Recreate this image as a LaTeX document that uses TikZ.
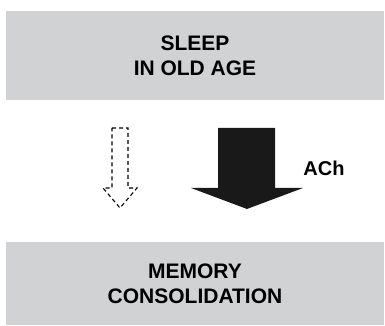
\documentclass[tikz,border=0pt]{standalone}
\usepackage{fontspec}
\setmainfont{Liberation Sans}
\definecolor{boxgray}{HTML}{D1D2D4}
\begin{document}
\begin{tikzpicture}[x=1pt,y=1pt,
  graybox/.style={fill=boxgray, draw=none, minimum width=378pt, inner sep=0pt,
    align=center, font=\fontsize{21}{25}\selectfont\bfseries},
  label text/.style={font=\fontsize{20}{25}\selectfont\bfseries, inner sep=0pt}]
\useasboundingbox (0,0) rectangle (385,326);
\node[graybox, minimum height=89pt] (sleep) at (195,270.5) {SLEEP\\IN OLD AGE};
\node[graybox, minimum height=83pt] (memory) at (195,42.5) {MEMORY\\CONSOLIDATION};
% dashed arrow
\draw[line width=1.1pt, dash pattern=on 4pt off 3pt]
  (112,198) -- (128,198) -- (128,138) -- (137,138) -- (120,118) -- (103,138) -- (112,138) -- cycle;
% solid arrow
\fill[black!90] (218,198) -- (275,198) -- (275,138) -- (303,138) -- (247,117) -- (191,138) -- (218,138) -- cycle;
\node[label text] (ach) at (324,158) {ACh};
\end{tikzpicture}
\end{document}
